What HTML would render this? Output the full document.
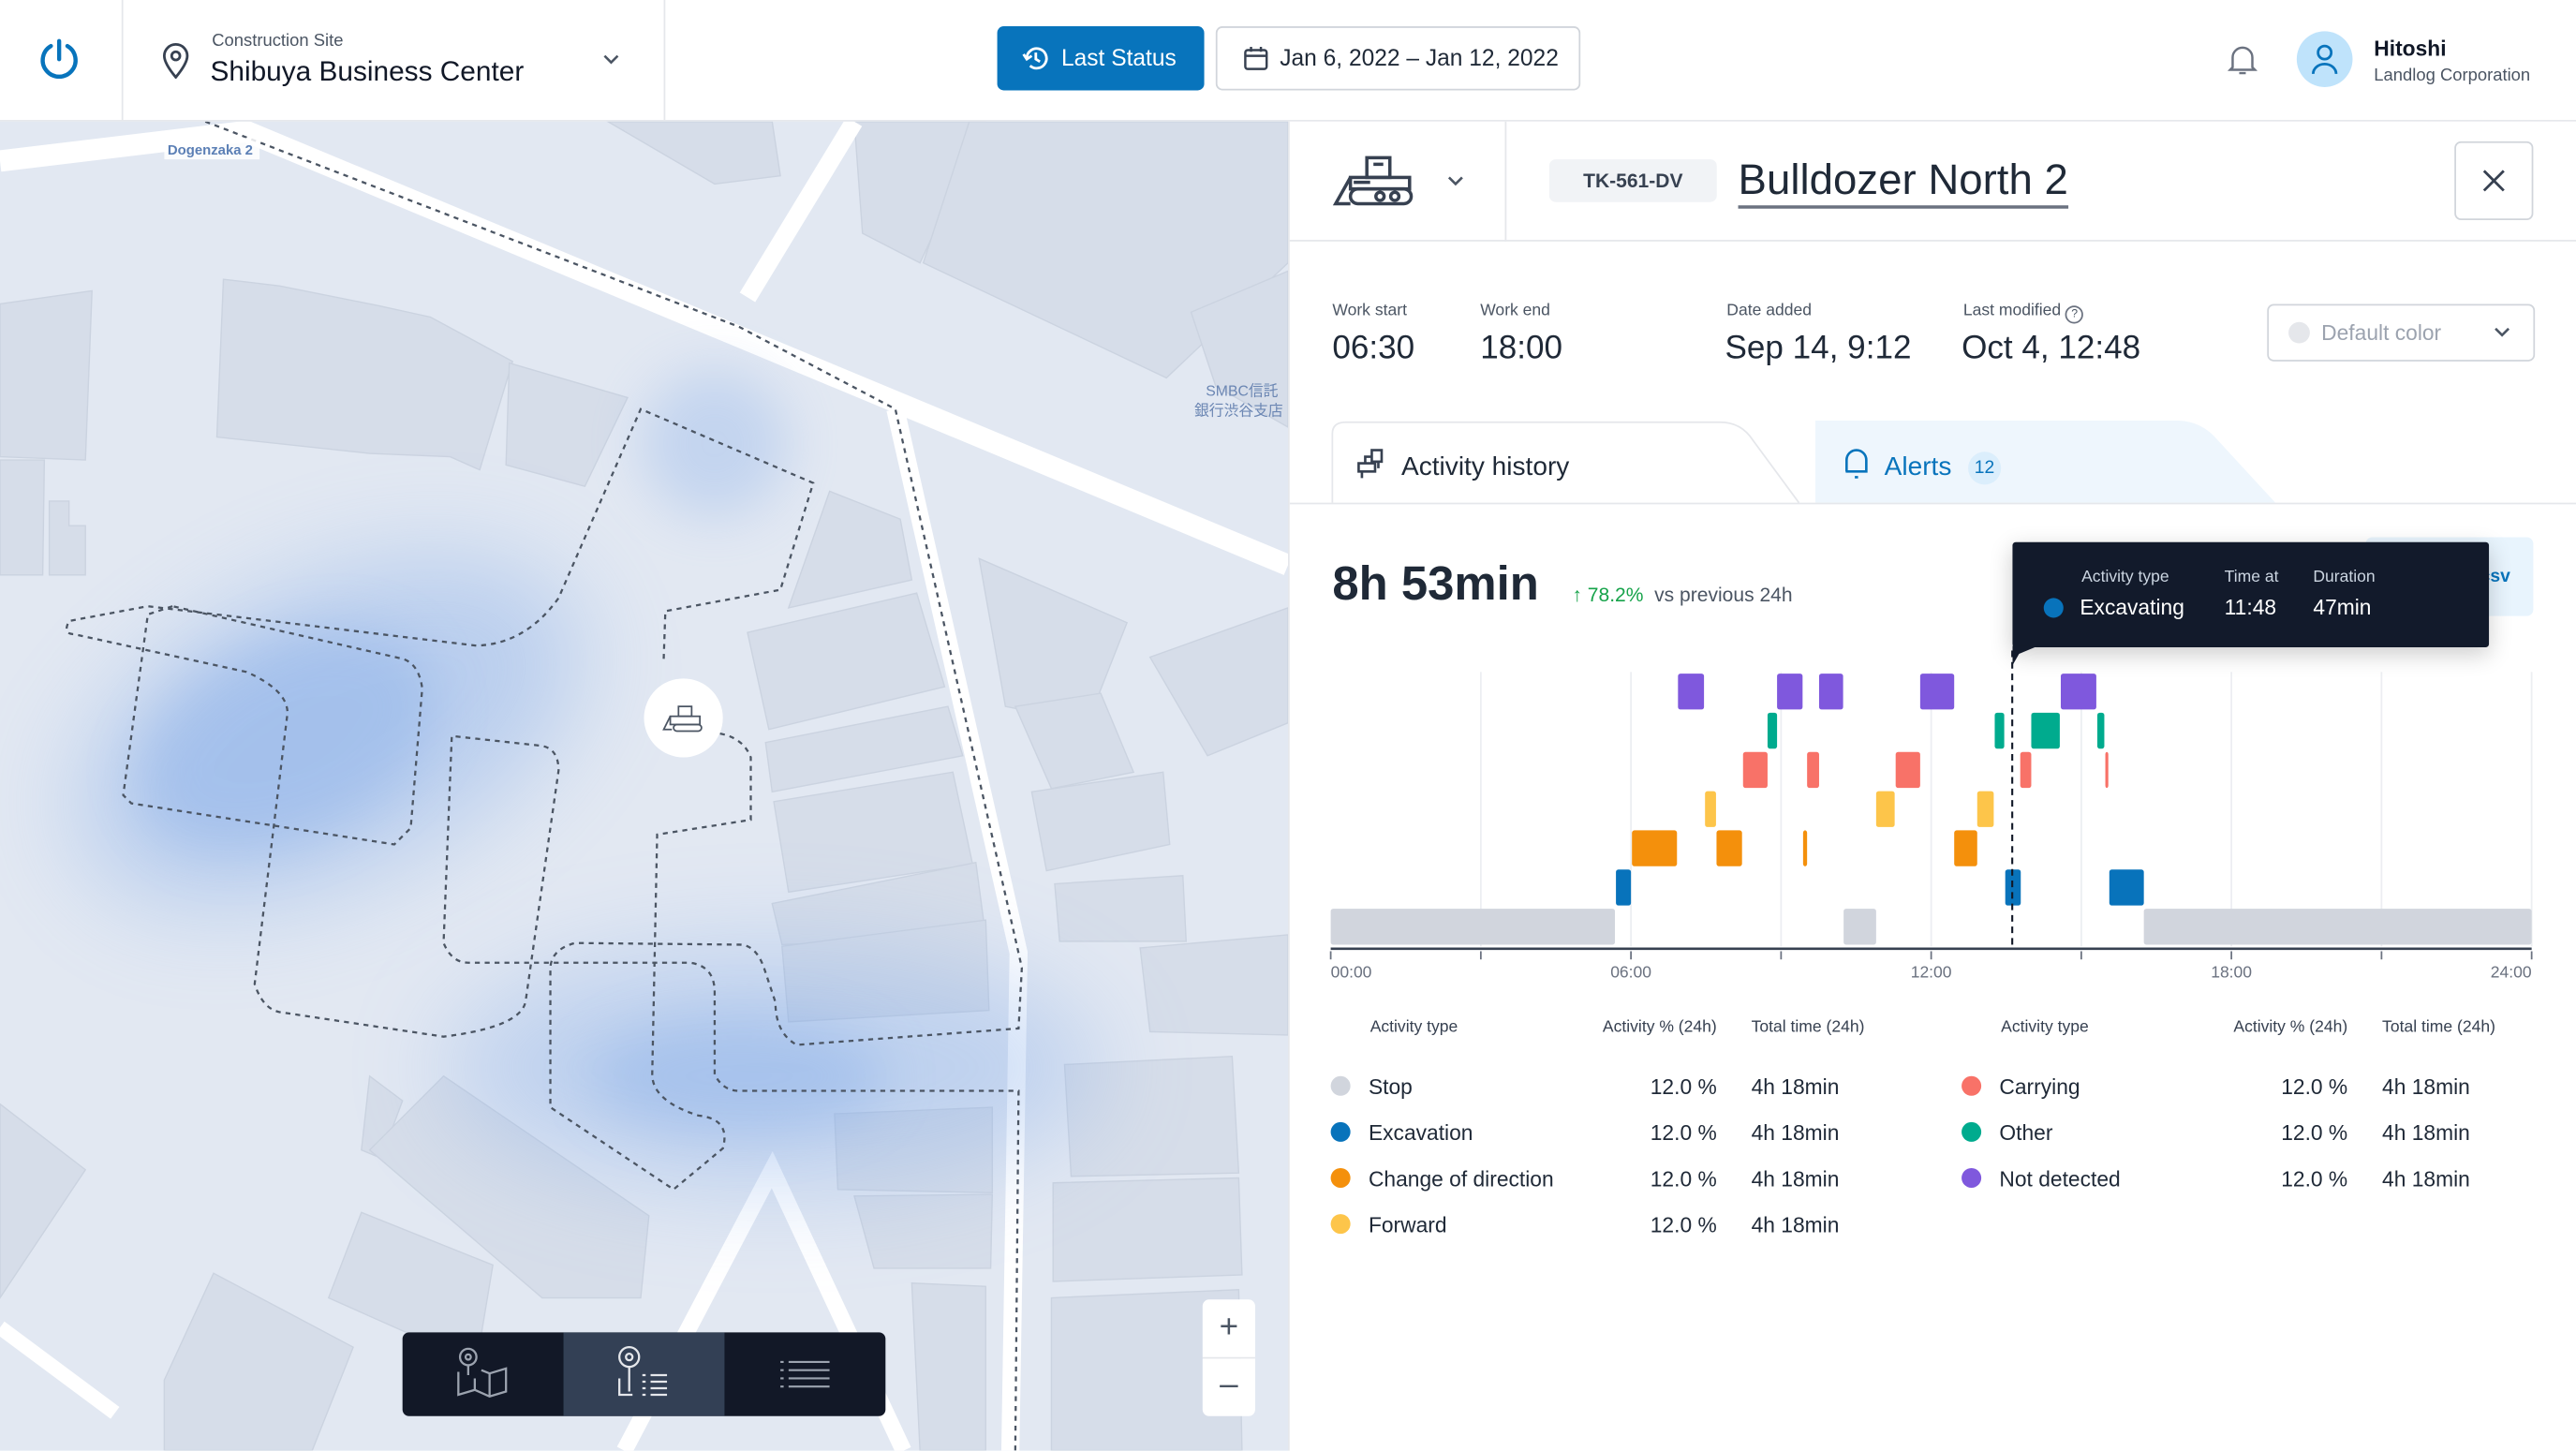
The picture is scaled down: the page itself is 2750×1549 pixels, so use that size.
<!DOCTYPE html>
<html><head><meta charset="utf-8"><style>
html,body{margin:0;padding:0;width:2750px;height:1548px;overflow:hidden;background:#fff}
#root{position:absolute;left:0;top:0;width:1568px;height:883px;transform:scale(1.75383);transform-origin:0 0;font-family:"Liberation Sans","Noto Sans CJK JP",sans-serif;color:#1f2937}
.abs{position:absolute;white-space:nowrap}
.lbl{font-size:10px;color:#4b5563}
.val{font-size:20px;color:#1f2937}
.th{font-size:10px;color:#374151}
.row{font-size:13px;color:#1f2937}
.dot{width:12px;height:12px;border-radius:50%;position:absolute}
</style></head><body>
<div id="root">
<!-- header -->
<div class="abs" style="left:0;top:0;width:1568px;height:73px;border-bottom:1px solid #e5e7eb;background:#fff">
 <svg class="abs" style="left:23px;top:23px" width="26" height="26" viewBox="0 0 26 26"><path d="M8 5 A10 10 0 1 0 18 5" fill="none" stroke="#0874bc" stroke-width="2.5" stroke-linecap="round"/><line x1="13" y1="2" x2="13" y2="13" stroke="#0874bc" stroke-width="2.5" stroke-linecap="round"/></svg>
 <div class="abs" style="left:74px;top:0;width:1px;height:73px;background:#e5e7eb"></div>
 <svg class="abs" style="left:98px;top:26px" width="18" height="22" viewBox="0 0 18 22"><path d="M9 21 C4 15 2 11 2 8 A7 7 0 0 1 16 8 C16 11 14 15 9 21Z" fill="none" stroke="#374151" stroke-width="1.6"/><circle cx="9" cy="8" r="2.5" fill="none" stroke="#374151" stroke-width="1.6"/></svg>
 <div class="abs" style="left:129px;top:19px;font-size:10.5px;color:#4b5563">Construction Site</div>
 <div class="abs" style="left:128px;top:34px;font-size:17px;color:#111827">Shibuya Business Center</div>
 <svg class="abs" style="left:366px;top:31px" width="12" height="10"><path d="M2 3 L6 7 L10 3" fill="none" stroke="#4b5563" stroke-width="1.5"/></svg>
 <div class="abs" style="left:404px;top:0;width:1px;height:73px;background:#e5e7eb"></div>
 <div class="abs" style="left:607px;top:16px;width:126px;height:39px;background:#0874bc;border-radius:4px;color:#fff;font-size:14px;line-height:39px">
  <svg class="abs" style="left:15px;top:11px" width="17" height="17" viewBox="0 0 17 17"><path d="M3 8.5 A6 6 0 1 1 5 13" fill="none" stroke="#fff" stroke-width="1.6"/><path d="M1 6 L3 9 L6 7" fill="none" stroke="#fff" stroke-width="1.6"/><path d="M8.5 5 V9 L11 10.5" fill="none" stroke="#fff" stroke-width="1.6"/></svg>
  <span class="abs" style="left:39px;top:0">Last Status</span></div>
 <div class="abs" style="left:740px;top:16px;width:220px;height:37px;border:1px solid #d1d5db;border-radius:4px;font-size:14px;line-height:37px;color:#1f2937">
  <svg class="abs" style="left:16px;top:11px" width="15" height="15" viewBox="0 0 15 15"><rect x="1" y="2.5" width="13" height="11.5" rx="1.5" fill="none" stroke="#374151" stroke-width="1.4"/><line x1="1" y1="6" x2="14" y2="6" stroke="#374151" stroke-width="1.4"/><line x1="4.5" y1="0.5" x2="4.5" y2="3.5" stroke="#374151" stroke-width="1.4"/><line x1="10.5" y1="0.5" x2="10.5" y2="3.5" stroke="#374151" stroke-width="1.4"/></svg>
  <span class="abs" style="left:38px;top:0">Jan 6, 2022 – Jan 12, 2022</span></div>
 <svg class="abs" style="left:1356px;top:27px" width="18" height="20" viewBox="0 0 18 20"><path d="M3 14 V8 A6 6 0 0 1 15 8 V14 L16.5 15.5 H1.5Z" fill="none" stroke="#6b7280" stroke-width="1.4"/><path d="M7 17.5 H11" stroke="#6b7280" stroke-width="1.4"/></svg>
 <div class="abs" style="left:1398px;top:19px;width:34px;height:34px;border-radius:50%;background:#bfe3fb">
  <svg class="abs" style="left:8px;top:7px" width="18" height="20" viewBox="0 0 18 20"><circle cx="9" cy="6" r="4" fill="none" stroke="#0874bc" stroke-width="1.6"/><path d="M2 19 A7 6 0 0 1 16 19" fill="none" stroke="#0874bc" stroke-width="1.6"/></svg></div>
 <div class="abs" style="left:1445px;top:22px;font-size:13px;font-weight:bold;color:#111827">Hitoshi</div>
 <div class="abs" style="left:1445px;top:40px;font-size:10.5px;color:#4b5563">Landlog Corporation</div>
</div>

<!-- map -->
<div class="abs" style="left:0;top:74px;width:784px;height:809px;overflow:hidden;background:#e2e8f2">
<svg width="784" height="809" viewBox="0 74 784 809" style="position:absolute;left:0;top:0">
 <defs><filter id="bl" x="-50%" y="-50%" width="200%" height="200%"><feGaussianBlur stdDeviation="30"/></filter>
 <filter id="bl2" x="-50%" y="-50%" width="200%" height="200%"><feGaussianBlur stdDeviation="16"/></filter></defs>
 <g fill="#d6dde9" stroke="#cbd3e0" stroke-width="0.8">
  <polygon points="0,185 56,177 52,280 0,278"/><polygon points="0,280 27,280 26,350 0,350"/>
  <polygon points="30,305 42,305 42,320 52,320 52,350 30,350"/>
  <polygon points="136,170 170,174 230,186 262,193 312,220 292,286 274,278 225,276 132,266"/>
  <polygon points="310,221 382,242 356,296 308,283"/>
  <polygon points="370,74 470,74 475,107 435,112"/>
  <polygon points="520,74 600,74 560,160 525,142"/>
  <polygon points="590,74 784,74 784,160 710,230 562,160"/>
  <polygon points="725,190 784,165 784,260 740,235"/>
  <polygon points="505,299 548,316 555,353 480,370"/>
  <polygon points="455,385 558,361 575,418 468,444"/>
  <polygon points="466,452 577,430 586,460 470,482"/>
  <polygon points="471,488 580,470 592,526 480,543"/>
  <polygon points="470,550 594,525 600,570 476,575"/>
  <polygon points="476,576 600,560 602,615 480,622"/>
  <polygon points="596,340 686,379 662,440 612,430"/>
  <polygon points="618,430 670,422 690,470 640,480"/>
  <polygon points="628,482 708,470 712,514 637,530"/>
  <polygon points="642,538 720,533 722,573 645,573"/>
  <polygon points="700,400 784,370 784,440 735,460"/>
  <polygon points="694,577 784,569 784,630 700,628"/>
  <polygon points="648,648 750,643 754,714 652,716"/>
  <polygon points="641,720 754,717 756,776 641,780"/>
  <polygon points="640,790 754,785 756,883 640,883"/>
  <polygon points="508,678 604,674 604,726 510,724"/>
  <polygon points="520,728 604,727 603,772 532,772"/>
  <polygon points="555,781 600,783 600,883 560,883"/>
  <polygon points="225,655 245,670 232,705 220,700"/>
  <polygon points="270,655 395,740 390,790 330,790 225,700"/>
  <polygon points="0,672 52,712 0,790"/>
  <polygon points="220,738 300,770 290,830 200,790"/>
  <polygon points="130,775 215,820 190,883 100,883 100,840"/>
 </g>
 <g stroke="#ffffff" stroke-linecap="butt" fill="none">
  <polyline points="0,98 150,80 784,344" stroke-width="13"/>
  <line x1="455" y1="181" x2="520" y2="74" stroke-width="11"/>
  <polyline points="545,249 620,580 615,883" stroke-width="11"/>
  <polyline points="380,883 470,712 550,883" stroke-width="10"/>
  <line x1="0" y1="808" x2="70" y2="860" stroke-width="9"/>
 </g>
 <g fill="#7ea8e8" >
  <ellipse cx="200" cy="445" rx="165" ry="90" transform="rotate(-25 200 445)" opacity="0.4" filter="url(#bl)"/>
  <ellipse cx="175" cy="450" rx="95" ry="60" transform="rotate(-25 175 450)" opacity="0.35" filter="url(#bl2)"/>
  <ellipse cx="470" cy="650" rx="200" ry="75" opacity="0.35" filter="url(#bl)"/>
  <ellipse cx="450" cy="655" rx="90" ry="35" opacity="0.35" filter="url(#bl2)"/>
  <ellipse cx="435" cy="270" rx="45" ry="45" opacity="0.3" filter="url(#bl2)"/>
 </g>
 <g fill="none" stroke="#4b5563" stroke-width="1.3" stroke-dasharray="3,3">
  <path d="M125,74 L450,199 L545,249 L622,589 L620,626 L485,636 Q472,629 472,610 L465,589 Q460,575 450,575 L350,574 Q335,578 335,590 L335,674 L410,724 L440,699 Q445,681 425,679 Q397,670 397,654 L400,508 L457,499 L457,461 Q452,448 435,446"/>
  <path d="M404,401 L405,372 L475,359 L495,294 L390,249 L340,364 Q320,392 290,393 L90,369 L42,378 Q38,386 45,386 L150,409 Q175,420 175,434 L155,599 Q160,614 170,616 L270,631 Q318,625 320,609 L340,469 Q340,456 330,454 L275,448 L270,574 Q275,586 285,586 L420,586 Q435,588 435,604 L435,654 Q440,664 450,664 L620,664 L618,883"/>
  <path d="M105,369 L90,374 L75,484 L80,489 L240,514 L250,504 L257,419 Q255,404 245,401 L105,369"/>
 </g>
 <rect x="100" y="84" width="58" height="13" fill="#fff" opacity="0.85"/>
 <text x="102" y="94" font-size="8.5" font-weight="bold" fill="#5b7fb5" font-family="Liberation Sans, sans-serif">Dogenzaka 2</text>
 <text x="734" y="241" font-size="9" fill="#6b86b3" font-family="Liberation Sans, Noto Sans CJK JP, sans-serif">SMBC信託</text>
 <text x="727" y="253" font-size="9" fill="#6b86b3" font-family="Liberation Sans, Noto Sans CJK JP, sans-serif">銀行渋谷支店</text>
 <circle cx="416" cy="437" r="24" fill="#fff"/>
 <g transform="translate(403,428)" fill="none" stroke="#4b5563" stroke-width="1"><rect x="10" y="2" width="8" height="6"/><rect x="5" y="8" width="18" height="5"/><rect x="7" y="13" width="17" height="4" rx="2"/><path d="M5 8 L1 16 H6"/></g>
</svg>
<div class="abs" style="left:245px;top:737px;width:294px;height:51px;background:#121827;border-radius:4px;overflow:hidden">
 <div class="abs" style="left:0;top:0;width:98px;height:51px">
  <svg class="abs" style="left:32px;top:8px" width="34" height="34" viewBox="0 0 34 34" fill="none" stroke="#9ca3af" stroke-width="1.3"><circle cx="8" cy="7" r="5"/><circle cx="8" cy="7" r="1.6"/><path d="M8 12 V18"/><path d="M2 16 V30 L12 27 L21 31 L31 28 V14 L21 17 L16 15"/><path d="M12 27 V20 M21 31 V17"/></svg></div>
 <div class="abs" style="left:98px;top:0;width:98px;height:51px;background:#334055">
  <svg class="abs" style="left:32px;top:8px" width="34" height="34" viewBox="0 0 34 34" fill="none" stroke="#e5e7eb" stroke-width="1.3"><circle cx="8" cy="7" r="6"/><circle cx="8" cy="7" r="2"/><path d="M8 13 V28 M2 20 V30 L10 30"/><path d="M16 18 H18 M21 18 H31 M16 22 H18 M21 22 H31 M16 26 H18 M21 26 H31 M16 30 H18 M21 30 H31"/></svg></div>
 <div class="abs" style="left:196px;top:0;width:98px;height:51px">
  <svg class="abs" style="left:34px;top:17px" width="30" height="18" viewBox="0 0 30 18" fill="none" stroke="#9ca3af" stroke-width="1.2"><path d="M0 1 H2 M5 1 H30 M0 6 H2 M5 6 H30 M0 11 H2 M5 11 H30 M0 16 H2 M5 16 H30"/></svg></div>
</div>
<div class="abs" style="left:732px;top:717px;width:32px;height:35px;background:#fff;border-radius:4px 4px 0 0;font-size:20px;color:#4b5563;text-align:center;line-height:35px;border-bottom:1px solid #e5e7eb">+</div>
<div class="abs" style="left:732px;top:753px;width:32px;height:35px;background:#fff;border-radius:0 0 4px 4px;font-size:20px;color:#4b5563;text-align:center;line-height:33px">–</div>
</div>

<!-- right panel -->
<div class="abs" style="left:784px;top:74px;width:784px;height:809px;background:#fff;border-left:1px solid #e5e7eb">
 <svg class="abs" style="left:25px;top:20px" width="52" height="32" viewBox="0 0 52 32" fill="none" stroke="#374151" stroke-width="2"><rect x="22" y="2" width="14" height="12"/><rect x="12" y="14" width="36" height="7"/><rect x="12" y="21" width="37" height="9" rx="4.5"/><circle cx="30" cy="25.5" r="2.5"/><circle cx="39" cy="25.5" r="2.5"/><path d="M12 14 L3 30 H12"/><path d="M26 6 H32 M14 17 H24"/></svg>
 <svg class="abs" style="left:95px;top:31px" width="12" height="10"><path d="M2 3 L6 7 L10 3" fill="none" stroke="#4b5563" stroke-width="1.5"/></svg>
 <div class="abs" style="left:131px;top:0;width:1px;height:73px;background:#e5e7eb"></div>
 <div class="abs" style="left:158px;top:23px;width:102px;height:26px;background:#f1f3f6;border-radius:4px;font-size:12px;font-weight:bold;color:#374151;text-align:center;line-height:26px">TK-561-DV</div>
 <div class="abs" style="left:273px;top:20px;font-size:26px;color:#1f2937;border-bottom:2px solid #6b7280;line-height:31px">Bulldozer North 2</div>
 <div class="abs" style="left:709px;top:12px;width:46px;height:46px;border:1px solid #d1d5db;border-radius:4px">
  <svg class="abs" style="left:16px;top:16px" width="14" height="14"><path d="M1 1 L13 13 M13 1 L1 13" stroke="#374151" stroke-width="1.6"/></svg></div>
 <div class="abs" style="left:0;top:72px;width:784px;height:1px;background:#e5e7eb"></div>

 <div class="abs lbl" style="left:26px;top:110px">Work start</div><div class="abs val" style="left:26px;top:127px">06:30</div>
 <div class="abs lbl" style="left:116px;top:110px">Work end</div><div class="abs val" style="left:116px;top:127px">18:00</div>
 <div class="abs lbl" style="left:266px;top:110px">Date added</div><div class="abs val" style="left:265px;top:127px">Sep 14, 9:12</div>
 <div class="abs lbl" style="left:410px;top:110px">Last modified <span style="display:inline-block;width:9px;height:9px;border:1px solid #6b7280;border-radius:50%;font-size:7px;text-align:center;line-height:9px;vertical-align:-1px">?</span></div><div class="abs val" style="left:409px;top:127px">Oct 4, 12:48</div>
 <div class="abs" style="left:595px;top:111px;width:161px;height:33px;border:1px solid #d1d5db;border-radius:4px;font-size:13px;color:#9ca3af;line-height:33px">
  <span class="abs" style="left:12px;top:10px;width:13px;height:13px;border-radius:50%;background:#e5e7eb"></span><span class="abs" style="left:32px">Default color</span>
  <svg class="abs" style="left:136px;top:11px" width="12" height="10"><path d="M2 3 L6 7 L10 3" fill="none" stroke="#4b5563" stroke-width="1.5"/></svg></div>

 <svg class="abs" style="left:0;top:182px" width="784" height="52">
  <path d="M320 0 H540 Q555 0 565 12 L600 50 H320 Z" fill="#eef6fd"/>
  <path d="M26 50 V8 Q26 1 34 1 H262 Q275 1 282 12 L310 50" fill="#fff" stroke="#e5e7eb" stroke-width="1"/>
  <line x1="0" y1="50.5" x2="784" y2="50.5" stroke="#e5e7eb"/>
 </svg>
 <div class="abs" style="left:40px;top:198px;font-size:16px;color:#1f2937">
  <svg style="vertical-align:-3px;margin-right:8px" width="20" height="20" viewBox="0 0 20 20" fill="none" stroke="#374151" stroke-width="1.5"><rect x="10" y="2" width="6" height="7"/><rect x="2" y="10" width="10" height="5"/><path d="M4 15 V19 M14 9 V13 M6 10 V6 H10"/></svg>Activity history</div>
 <div class="abs" style="left:337px;top:198px;font-size:16px;color:#0874bc">
  <svg style="vertical-align:-3px;margin-right:9px" width="16" height="20" viewBox="0 0 16 20" fill="none" stroke="#0874bc" stroke-width="1.5"><path d="M2 15 V8 A6 6 0 0 1 14 8 V15 H1.5 H14.5"/><path d="M7 18.5 H9"/></svg>Alerts<span style="display:inline-block;margin-left:10px;width:20px;height:20px;border-radius:50%;background:#dbeefc;font-size:11px;text-align:center;line-height:20px;vertical-align:1px">12</span></div>

 <div class="abs" style="left:26px;top:266px;font-size:29px;font-weight:bold;color:#1f2937">8h 53min</div>
 <div class="abs" style="left:172px;top:281px;font-size:12px;color:#4b5563"><span style="color:#16a34a">↑ 78.2%</span>&nbsp; vs previous 24h</div>
 <div class="abs" style="left:655px;top:253px;width:102px;height:48px;background:#e8f4fd;border-radius:4px;font-size:11px;font-weight:bold;color:#0874bc;line-height:48px;text-align:right;padding-right:14px;box-sizing:border-box">csv</div>
</div>

<!-- chart -->
<svg id="chart" class="abs" style="left:0;top:0" width="1568" height="883"></svg>

<!-- tooltip -->
<div class="abs" style="left:1225px;top:330px;width:290px;height:64px;background:#121a2b;border-radius:2px;box-shadow:0 4px 14px rgba(0,0,0,0.2)">
 <svg class="abs" style="left:0;top:63px" width="16" height="12"><path d="M0 0 H16 L4 5 L0 12Z" fill="#121a2b"/></svg>
 <div class="abs" style="left:42px;top:16px;font-size:10px;color:#cbd5e1">Activity type</div>
 <div class="abs" style="left:129px;top:16px;font-size:10px;color:#cbd5e1">Time at</div>
 <div class="abs" style="left:183px;top:16px;font-size:10px;color:#cbd5e1">Duration</div>
 <span class="abs" style="left:19px;top:34px;width:12px;height:12px;border-radius:50%;background:#0873bb"></span>
 <div class="abs" style="left:41px;top:32px;font-size:13px;color:#fff">Excavating</div>
 <div class="abs" style="left:129px;top:32px;font-size:13px;color:#fff">11:48</div>
 <div class="abs" style="left:183px;top:32px;font-size:13px;color:#fff">47min</div>
</div>

<!-- legend table -->
<div class="abs" style="left:0;top:0">
 <div class="abs th" style="left:834px;top:620px">Activity type</div>
 <div class="abs th" style="left:945px;top:620px;width:100px;text-align:right">Activity % (24h)</div>
 <div class="abs th" style="left:1066px;top:620px">Total time (24h)</div>
 <div class="abs th" style="left:1218px;top:620px">Activity type</div>
 <div class="abs th" style="left:1329px;top:620px;width:100px;text-align:right">Activity % (24h)</div>
 <div class="abs th" style="left:1450px;top:620px">Total time (24h)</div>
 <div id="legrows"></div>
</div>
</div>
<script>
const categories=['Stop','Excavation','Change of direction','Forward','Carrying','Other','Not detected'];
const colors=['#d1d5dd','#0873bb','#f4900c','#fdc54a','#f87268','#00ab8e','#7f58dd'];
const rowOrder=['Not detected','Other','Carrying','Forward','Change of direction','Excavation','Stop'];
const stopStart=[0,10.25,16.25],stopEnd=[5.68,10.9,24];
const excStart=[5.70,13.48,15.56],excEnd=[6.0,13.79,16.25];
const dirStart=[6.02,7.71,9.44,12.46],dirEnd=[6.92,8.22,9.52,12.92];
const fwdStart=[7.48,10.9,12.92],fwdEnd=[7.70,11.27,13.25];
const carStart=[8.24,9.52,11.29,13.78,15.48],carEnd=[8.73,9.76,11.78,14.0,15.54];
const othStart=[8.73,13.27,14.0,15.32],othEnd=[8.92,13.46,14.57,15.46];
const ndStart=[6.94,8.92,9.76,11.78,14.59],ndEnd=[7.46,9.43,10.24,12.46,15.30];
const cursorHour=13.62;
const tickHours=[0,3,6,9,12,15,18,21,24];
const tickLabels=['00:00','06:00','12:00','18:00','24:00'];
const labelHours=[0,6,12,18,24];
const pctValues=['12.0 %','12.0 %','12.0 %','12.0 %','12.0 %','12.0 %','12.0 %'];
const timeValues=['4h 18min','4h 18min','4h 18min','4h 18min','4h 18min','4h 18min','4h 18min'];

const NS='http://www.w3.org/2000/svg';
const svg=document.getElementById('chart');
const X0=810,X1=1541,TOP=409,BOT=576;
const x=h=>X0+(X1-X0)*h/24;
const rowH=(BOT-TOP)/7;
const y=cat=>TOP+rowOrder.indexOf(cat)*rowH;
function el(t,a){const e=document.createElementNS(NS,t);for(const k in a)e.setAttribute(k,a[k]);svg.appendChild(e);return e;}
tickHours.forEach(h=>{if(h>0){const g=el('line',{x1:x(h),x2:x(h),y1:TOP,y2:BOT,stroke:'#eceef2','stroke-width':1});

}});
const series=[['Stop',stopStart,stopEnd],['Excavation',excStart,excEnd],['Change of direction',dirStart,dirEnd],['Forward',fwdStart,fwdEnd],['Carrying',carStart,carEnd],['Other',othStart,othEnd],['Not detected',ndStart,ndEnd]];
series.forEach(([cat,s,e])=>{const c=colors[categories.indexOf(cat)];
s.forEach((v,i)=>{const r=el('rect',{x:x(v),y:y(cat)+1,width:Math.max(1,x(e[i])-x(v)),height:rowH-2,rx:1.5,fill:c});

});});
const ax=el('line',{x1:X0,x2:X1,y1:BOT+1.5,y2:BOT+1.5,stroke:'#374151','stroke-width':1.5});


tickHours.forEach(h=>{const t=el('line',{x1:x(h),x2:x(h),y1:BOT+3,y2:BOT+8,stroke:'#6b7280','stroke-width':1});

});
labelHours.forEach((h,i)=>{const anchor=i===0?'start':(i===labelHours.length-1?'end':'middle');
const t=el('text',{x:x(h),y:BOT+19,'font-size':10,fill:'#6b7280','text-anchor':anchor,'font-family':'Liberation Sans, sans-serif'});
t.textContent=tickLabels[i];

});
const cl=el('line',{x1:x(cursorHour),x2:x(cursorHour),y1:396,y2:BOT,stroke:'#111827','stroke-width':1.2,'stroke-dasharray':'4,3'});



const lr=document.getElementById('legrows');
categories.forEach((c,i)=>{const col=i<4?0:1,row=i<4?i:i-4;const bx=col?1194:810,by=654+row*28;
const d=document.createElement('div');d.className='abs row';d.style.left=bx+'px';d.style.top=by+'px';d.style.width='380px';d.style.height='20px';


d.innerHTML='<span class="dot" style="left:0;top:1px;background:'+colors[i]+'"></span><span class="abs" style="left:23px;top:0">'+c+'</span><span class="abs" style="left:135px;width:100px;text-align:right;top:0">'+pctValues[i]+'</span><span class="abs" style="left:256px;top:0">'+timeValues[i]+'</span>';
lr.appendChild(d);});
</script>
</body></html>
